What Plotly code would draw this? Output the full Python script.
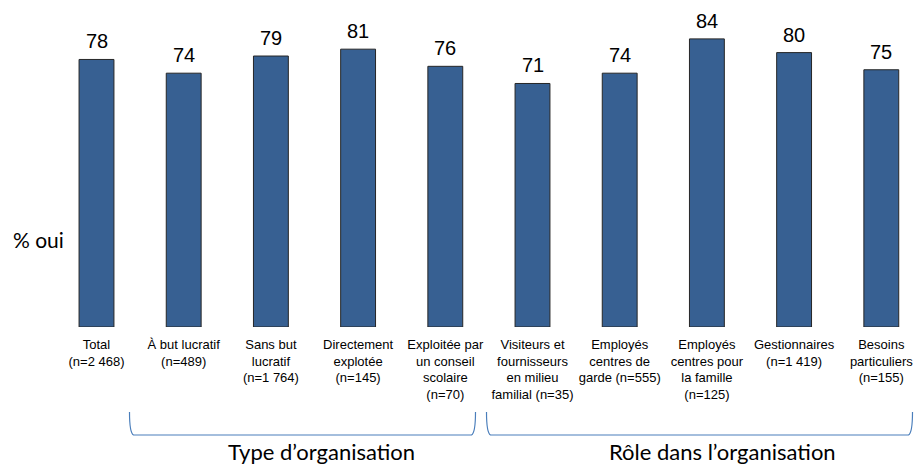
import plotly.graph_objects as go

# Survey results: share answering "oui" by respondent group
categories = [
    "Total<br>(n=2 468)",
    "À but lucratif<br>(n=489)",
    "Sans but<br>lucratif<br>(n=1 764)",
    "Directement<br>explotée<br>(n=145)",
    "Exploitée par<br>un conseil<br>scolaire<br>(n=70)",
    "Visiteurs et<br>fournisseurs<br>en milieu<br>familial (n=35)",
    "Employés<br>centres de<br>garde (n=555)",
    "Employés<br>centres pour<br>la famille<br>(n=125)",
    "Gestionnaires<br>(n=1 419)",
    "Besoins<br>particuliers<br>(n=155)",
]
pct_oui = [78, 74, 79, 81, 76, 71, 74, 84, 80, 75]
groups = ["Type d’organisation", "Rôle dans l’organisation"]

W, H = 914, 465
TOP, BOTTOM = 0, 138          # margins in px
PLOT_H = H - TOP - BOTTOM
x_pos = list(range(len(categories)))


def py(px_y):
    """Pixel row -> paper y coordinate."""
    return (H - BOTTOM - px_y) / PLOT_H


def px(px_x):
    return px_x / W


fig = go.Figure()
fig.add_trace(go.Bar(
    x=x_pos,
    y=pct_oui,
    width=0.40,
    marker=dict(color="#376092", line=dict(color="#262626", width=1)),
    hoverinfo="skip",
))

# Value labels above each bar
for xi, v in zip(x_pos, pct_oui):
    fig.add_annotation(
        x=xi, y=v, xref="x", yref="y", text=str(v), showarrow=False,
        xanchor="center", yanchor="bottom", yshift=5,
        font=dict(family="Liberation Sans, Arial", size=20, color="#000000"),
    )

# Bracket under each group of categories
brackets = [(129.5, 475.5), (486.5, 912.5)]
top_y, base_y = 412, 435
for x0, x1 in brackets:
    path = (
        f"M {px(x0)},{py(top_y)} "
        f"Q {px(x0)},{py(base_y - 2)} {px(x0 + 4)},{py(base_y)} "
        f"L {px(x1 - 4)},{py(base_y)} "
        f"Q {px(x1)},{py(base_y - 2)} {px(x1)},{py(top_y)}"
    )
    fig.add_shape(type="path", path=path, xref="paper", yref="paper",
                  line=dict(color="#4A7EBB", width=1.2))

group_centers = [321, 722]
for label, cx in zip(groups, group_centers):
    fig.add_annotation(
        text=label, x=px(cx), y=py(451), xref="paper", yref="paper",
        showarrow=False, xanchor="center", yanchor="middle",
        font=dict(family="Lato, Carlito, Calibri", size=22, color="#000000"),
    )

fig.add_annotation(
    text="% oui", x=px(38), y=py(239), xref="paper", yref="paper",
    showarrow=False, xanchor="center", yanchor="middle",
    font=dict(family="Lato, Carlito, Calibri", size=21, color="#000000"),
)

fig.update_layout(
    width=W, height=H,
    margin=dict(l=0, r=0, t=TOP, b=BOTTOM, pad=0),
    paper_bgcolor="#ffffff", plot_bgcolor="#ffffff",
    showlegend=False,
    xaxis=dict(
        range=[-96.5 / 87.2, (W - 96.5) / 87.2],
        tickvals=x_pos, ticktext=categories,
        tickfont=dict(family="Liberation Sans, Arial", size=13, color="#000000"),
        showgrid=False, zeroline=False, showline=False,
        ticks="outside", ticklen=5, tickcolor="rgba(0,0,0,0)",
        tickangle=0,
    ),
    yaxis=dict(
        range=[0, PLOT_H / 3.43],
        visible=False, showgrid=False, zeroline=False,
    ),
)

fig.write_html("out.html")
